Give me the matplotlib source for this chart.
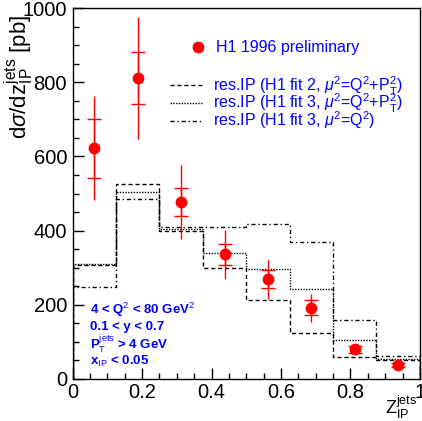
import numpy as np
import matplotlib
matplotlib.use('Agg')
import matplotlib.pyplot as plt
from matplotlib.lines import Line2D
from matplotlib.ticker import MultipleLocator, FuncFormatter

plt.rcParams['font.family'] = 'Liberation Sans'
plt.rcParams['mathtext.fontset'] = 'custom'
plt.rcParams['mathtext.rm'] = 'Liberation Sans'
plt.rcParams['mathtext.it'] = 'Liberation Sans:italic'
plt.rcParams['mathtext.bf'] = 'Liberation Sans:bold'

# bins in z_IP^jets
edges = [0, 0.125, 0.25, 0.375, 0.5, 0.625, 0.75, 0.875, 1.0]
z_centers = [0.0625, 0.1875, 0.3125, 0.4375, 0.5625, 0.6875, 0.8125, 0.9375]

# H1 1996 preliminary data (pb)
xsec = [622, 811, 477, 336, 269, 192, 80, 38]
err_stat = [80, 70, 38, 29, 24, 20, 10, 5]
err_tot = [140, 165, 100, 67, 53, 38, 14, 7]

# model predictions (pb)
fit2_q2pt2 = [307, 527, 400, 298, 214, 124, 58, 52]
fit3_q2pt2 = [311, 503, 404, 341, 296, 242, 104, 55]
fit3_q2 = [247, 484, 410, 410, 419, 370, 159, 63]

cuts = ['4 < Q$^2$ < 80 GeV$^2$', '0.1 < y < 0.7',
        'P$_\\mathrm{T}^\\mathrm{jets}$ > 4 GeV', 'x$_\\mathrm{IP}$ < 0.05']

blue = '#0000ff'
red = '#ff0000'

fig = plt.figure(figsize=(4.22, 4.21), dpi=100)
ax = fig.add_axes([0.172, 0.0998, 0.823, 0.881])

ax.stairs(fit2_q2pt2, edges, color='black', lw=1.0, linestyle=(0, (3, 2)))
ax.stairs(fit3_q2pt2, edges, color='black', lw=1.0, linestyle=(0, (1, 1)))
ax.stairs(fit3_q2, edges, color='black', lw=1.0, linestyle=(0, (3, 2, 1, 2)))

ax.errorbar(z_centers, xsec, yerr=err_tot, fmt='none', ecolor=red, elinewidth=1.0)
ax.errorbar(z_centers, xsec, yerr=err_stat, fmt='o', color=red, ms=7.5,
            ecolor=red, elinewidth=1.0, capsize=5, capthick=1.0)

ax.set_xlim(0, 1)
ax.set_ylim(0, 1000)
ax.xaxis.set_major_locator(MultipleLocator(0.2))
ax.xaxis.set_minor_locator(MultipleLocator(0.05))
ax.yaxis.set_major_locator(MultipleLocator(200))
ax.yaxis.set_minor_locator(MultipleLocator(50))
ax.xaxis.set_major_formatter(FuncFormatter(lambda v, p: '%g' % v))
ax.tick_params(which='both', direction='in', top=False, right=False, labelsize=14.5)
ax.tick_params(which='major', length=8, width=1)
ax.tick_params(which='minor', length=4, width=1)
ax.tick_params(axis='x', pad=3)
ax.tick_params(axis='y', pad=4)
for s in ax.spines.values():
    s.set_linewidth(1.0)

ax.set_ylabel(r'd$\sigma$/dz$_\mathrm{IP}^\mathrm{jets}$ [pb]', fontsize=16)
ax.yaxis.set_label_coords(-0.106, 0.815)
fig.text(0.99, 0.0, r'Z$_\mathrm{IP}^\mathrm{jets}$', ha='right', va='bottom',
         fontsize=13)

# legends
dot = Line2D([], [], marker='o', color=red, ls='none', ms=7.5)
leg1 = ax.legend([dot], ['H1 1996 preliminary'], loc='upper left',
                 bbox_to_anchor=(0.285, 0.952), frameon=False, fontsize=11.5,
                 handlelength=1.5, handletextpad=0.4, labelcolor=blue)
ax.add_artist(leg1)
l1 = Line2D([], [], color='black', lw=1, ls=(0, (3, 2)))
l2 = Line2D([], [], color='black', lw=1, ls=(0, (1, 1)))
l3 = Line2D([], [], color='black', lw=1, ls=(0, (3, 2, 1, 2)))
ax.legend([l1, l2, l3],
          [r'res.IP (H1 fit 2, $\mu^2$=Q$^2$+P$_\mathrm{T}^2$)',
           r'res.IP (H1 fit 3, $\mu^2$=Q$^2$+P$_\mathrm{T}^2$)',
           r'res.IP (H1 fit 3, $\mu^2$=Q$^2$)'],
          loc='upper left', bbox_to_anchor=(0.24, 0.86), frameon=False,
          fontsize=11.5, handlelength=2.0, handletextpad=0.7, labelspacing=-0.35,
          labelcolor=blue)

for i, line in enumerate(cuts):
    ax.text(0.05, 0.186 - i * 0.0458, line, transform=ax.transAxes, ha='left',
            va='center', color=blue, fontsize=9.5, fontweight='bold')

fig.savefig('out.png', dpi=100)
